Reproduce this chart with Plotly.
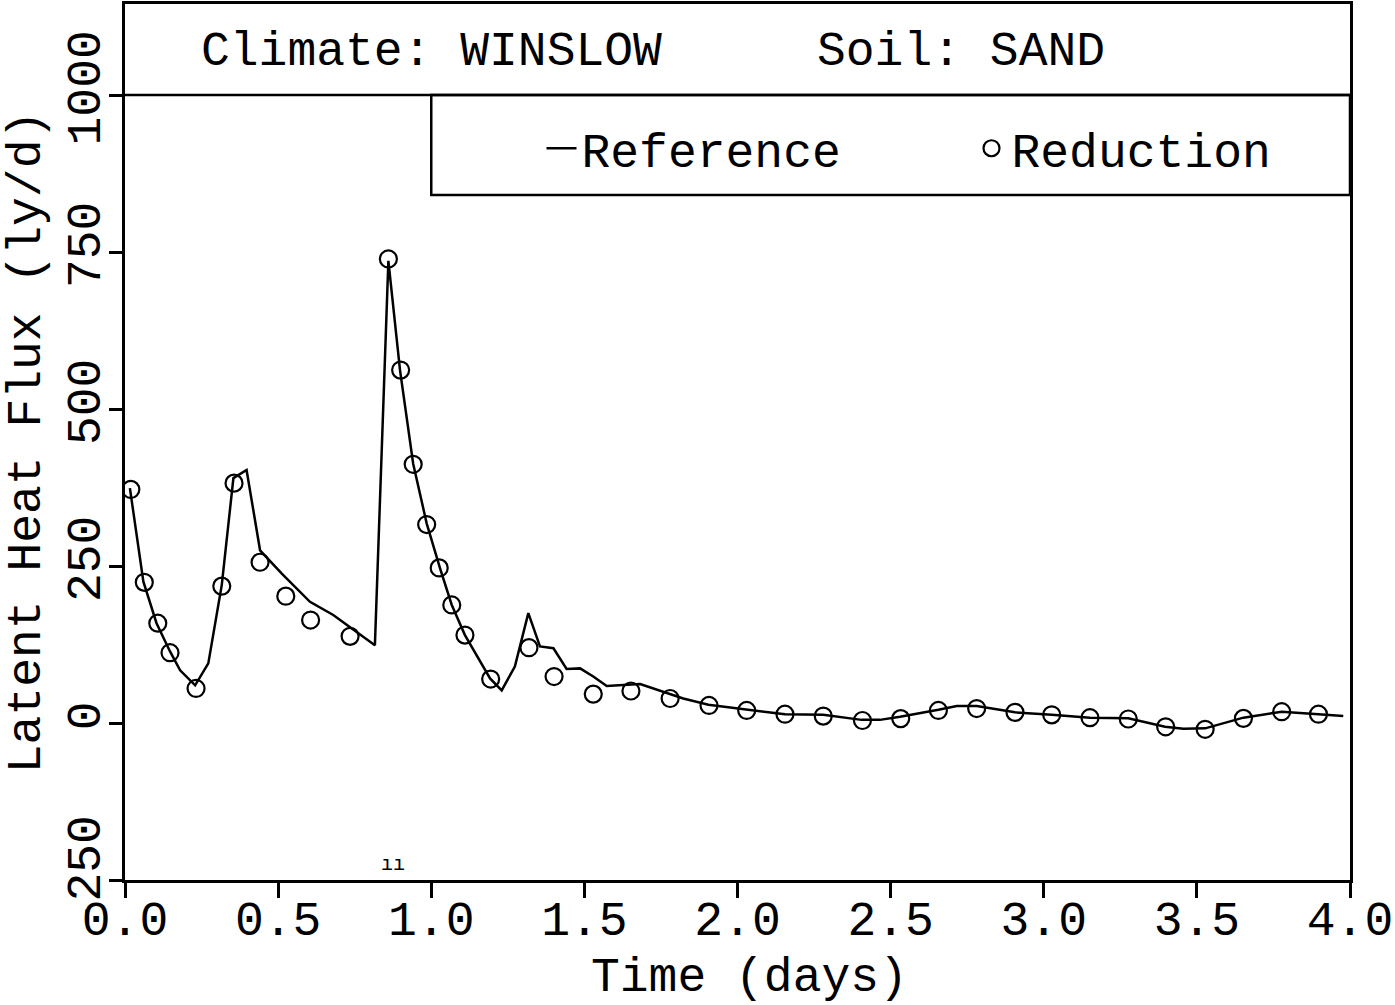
import plotly.graph_objects as go

# ---- data ----
ref_time = [0.016, 0.06, 0.103, 0.147, 0.18, 0.229, 0.272, 0.316, 0.354, 0.397,
            0.441, 0.512, 0.604, 0.68, 0.816, 0.86, 0.898, 0.941, 0.985, 1.029,
            1.067, 1.11, 1.192, 1.23, 1.273, 1.317, 1.355, 1.399, 1.442, 1.486,
            1.529, 1.573, 1.682, 1.823, 1.905, 2.03, 2.155, 2.28, 2.405, 2.465,
            2.531, 2.656, 2.716, 2.781, 2.906, 3.026, 3.151, 3.276, 3.396, 3.456,
            3.527, 3.652, 3.777, 3.897, 3.978]
ref_flux = [374, 225, 159, 114, 84, 60, 95, 220, 390, 403,
            275, 238, 193, 172, 124, 736, 562, 413, 318, 246,
            188, 140, 71, 52, 90, 175, 122, 119, 86, 87,
            74, 59, 62, 39, 29, 21, 14, 13, 5, 5,
            10, 21, 27, 27, 17, 13, 8.5, 7.4, -6, -9,
            -8.5, 8.5, 18, 14, 11]

red_time = [0.019, 0.063, 0.107, 0.147, 0.232, 0.316, 0.356, 0.441, 0.525, 0.606,
            0.735, 0.86, 0.9, 0.941, 0.985, 1.026, 1.067, 1.11, 1.194, 1.319,
            1.401, 1.529, 1.652, 1.78, 1.907, 2.03, 2.155, 2.28, 2.408, 2.533,
            2.656, 2.781, 2.906, 3.026, 3.151, 3.276, 3.398, 3.527, 3.652, 3.777,
            3.897]
red_flux = [372, 224, 159, 112, 55, 218, 382, 256, 202, 164,
            138, 739, 562, 412, 316, 247, 188, 140, 70, 120,
            74, 46, 51, 39, 28, 20, 14, 11, 4, 7,
            20, 23, 17, 13, 8.5, 6.4, -6, -10, 7.4, 18,
            14]

x_ticks = [0.0, 0.5, 1.0, 1.5, 2.0, 2.5, 3.0, 3.5, 4.0]
x_ticklabels = ["0.0", "0.5", "1.0", "1.5", "2.0", "2.5", "3.0", "3.5", "4.0"]
y_ticks = [-250, 0, 250, 500, 750, 1000]
y_ticklabels = ["-250", "0", "250", "500", "750", "1000"]

FONT = "Liberation Mono"
FS = 48

fig = go.Figure()
fig.add_trace(go.Scatter(x=ref_time, y=ref_flux, mode="lines", name="Reference",
                         line=dict(color="black", width=2.5)))
fig.add_trace(go.Scatter(x=red_time, y=red_flux, mode="markers", name="Reduction",
                         marker=dict(symbol="circle-open", size=17, color="black",
                                     line=dict(color="black", width=2.2))))

axis_common = dict(showline=True, linecolor="black", linewidth=2.5, mirror=True,
                   ticks="outside", tickcolor="black", tickwidth=2.5,
                   showgrid=False, zeroline=False, automargin=False,
                   tickfont=dict(family=FONT, size=FS, color="black"))

fig.update_xaxes(range=[0, 4], tickvals=x_ticks, ticktext=x_ticklabels, ticklen=15,
                 ticklabelstandoff=-20,
                 **axis_common)
fig.update_yaxes(range=[-250, 1145], tickvals=y_ticks, ticktext=y_ticklabels, ticklen=13,
                 tickangle=-90, ticklabelstandoff=-10,
                 title=dict(text="Latent Heat Flux (ly/d)",
                            font=dict(family=FONT, size=FS, color="black"), standoff=6),
                 **axis_common)

# title box divider and legend box
fig.add_shape(type="line", xref="paper", yref="y", x0=0, x1=1, y0=1000, y1=1000,
              line=dict(color="black", width=2.5))
fig.add_shape(type="rect", xref="x", yref="y", x0=1.0, x1=4.0, y0=841, y1=1000,
              line=dict(color="black", width=2.5))

fig.add_annotation(text="Climate: WINSLOW", xref="paper", yref="y", x=0.06, y=1068,
                   xanchor="left", yanchor="middle", showarrow=False,
                   font=dict(family=FONT, size=FS, color="black"))
fig.add_annotation(text="Soil: SAND", xref="paper", yref="y", x=0.563, y=1068,
                   xanchor="left", yanchor="middle", showarrow=False,
                   font=dict(family=FONT, size=FS, color="black"))
fig.add_annotation(text="Time (days)", xref="paper", yref="paper", x=0.51, y=-0.112,
                   xanchor="center", yanchor="middle", showarrow=False,
                   font=dict(family=FONT, size=FS, color="black"))
fig.add_annotation(text="ıı", xref="x", yref="y", x=0.875, y=-226, showarrow=False,
                   font=dict(family=FONT, size=20, color="black"))

fig.update_layout(
    width=1395, height=1005,
    margin=dict(l=125, r=45, t=4, b=125, autoexpand=False),
    paper_bgcolor="white", plot_bgcolor="white",
    font=dict(family=FONT, size=FS, color="black"),
    legend=dict(orientation="h", x=0.340, y=0.835, xanchor="left", yanchor="middle",
                bgcolor="rgba(0,0,0,0)", borderwidth=0,
                entrywidth=385, entrywidthmode="pixels",
                font=dict(family=FONT, size=FS, color="black")),
)

fig.write_html("out.html")
